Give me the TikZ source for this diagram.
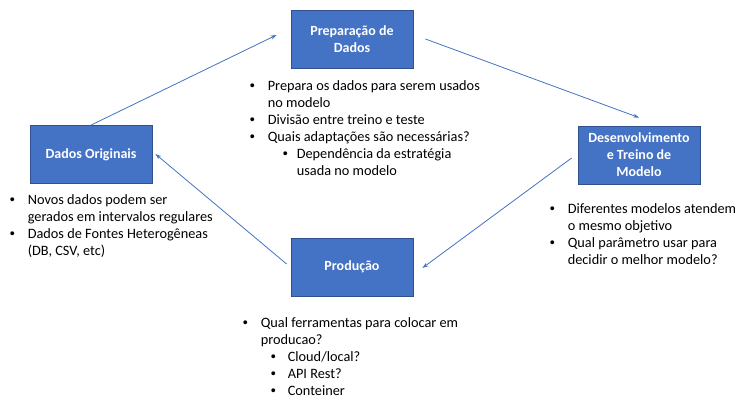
\documentclass[tikz,border=0pt]{standalone}
\usepackage{fontspec}
\setmainfont{Carlito}
\newfontfamily\bulletfont{Liberation Sans}
\usetikzlibrary{positioning}
\usetikzlibrary{calc}
\usetikzlibrary{arrows.meta}
\definecolor{boxblue}{RGB}{68,114,196}
\definecolor{boxedge}{RGB}{47,82,143}
\newcommand{\blt}{{\bulletfont •}}
\newcommand{\itm}{\makebox[18pt][l]{\blt}}
\newcommand{\cont}{\hspace*{18pt}}

\begin{document}
\begin{tikzpicture}[x=1pt,y=1pt,
    etapa/.style={draw=boxedge, line width=0.8, fill=boxblue, text=white, minimum width=122, minimum height=58, align=center, font=\fontsize{14}{17}\selectfont\bfseries},
    lista/.style={anchor=north west, inner sep=0, align=left, font=\fontsize{14.3}{17}\selectfont},
    seta/.style={-{Stealth[length=6pt,width=4pt]}, draw=boxblue, line width=0.8}]
        \useasboundingbox (0,0) rectangle (752,407);

        % nodes %
        \node[etapa] (prep) at (352,368) {Preparação de\\Dados};
        \node[etapa] (orig) at (91,252.5) {Dados Originais};
        \node[etapa] (dev) at (639,252) {Desenvolvimento\\e Treino de\\Modelo};
        \node[etapa] (prod) at (352,140) {Produção};

        % lists %
        \node[lista] (lprep) at ([xshift=-41,yshift=-12]prep.south west) {\itm Prepara os dados para serem usados\\ \cont no modelo\\ \itm Divisão entre treino e teste\\ \itm Quais adaptações são necessárias?\\ \hspace*{33pt}\makebox[14pt][l]{\blt}Dependência da estratégia\\ \hspace*{47pt}usada no modelo};
        \node[lista] (lorig) at ([xshift=-20,yshift=-10]orig.south west) {\itm Novos dados podem ser\\ \cont gerados em intervalos regulares\\ \itm Dados de Fontes Heterogêneas\\ \cont (DB, CSV, etc)};
        \node[lista] (ldev) at ([xshift=-28,yshift=-19]dev.south west) {\itm Diferentes modelos atendem\\ \cont o mesmo objetivo\\ \itm Qual parâmetro usar para\\ \cont decidir o melhor modelo?};
        \node[lista] (lprod) at ([xshift=-48,yshift=-21]prod.south west) {\itm Qual ferramentas para colocar em\\ \cont producao?\\ \hspace*{28pt}\makebox[17pt][l]{\blt}Cloud/local?\\ \hspace*{28pt}\makebox[17pt][l]{\blt}API Rest?\\ \hspace*{28pt}\makebox[17pt][l]{\blt}Conteiner};

        % free ends %
        \coordinate (e1) at ([xshift=-14,yshift=4]prep.west);
        \coordinate (s2) at ([xshift=12]prep.east);
        \coordinate (e2) at ([yshift=8]dev.north);
        \coordinate (s3) at ([xshift=-6,yshift=-3]dev.west);
        \coordinate (e3) at ([xshift=9,yshift=-1]prod.east);
        \coordinate (s4) at ([xshift=-4,yshift=3]prod.west);
        \coordinate (e4) at ([xshift=3,yshift=0.5]orig.east);

        % edges %
        \draw[seta] (orig.north) -- (e1);
        \draw[seta] (s2) -- (e2);
        \draw[seta] (s3) -- (e3);
        \draw[seta] (s4) -- (e4);
      \end{tikzpicture}
\end{document}
